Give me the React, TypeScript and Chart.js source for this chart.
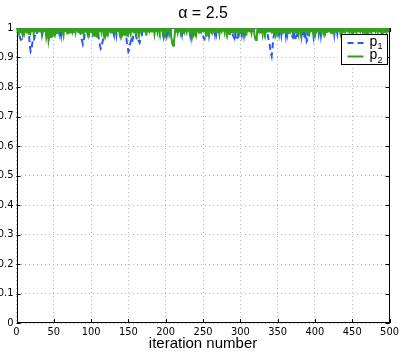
import React, { useEffect, useRef } from "react";
import { Chart, registerables } from "chart.js";

Chart.register(...registerables);

// ---- data ----
const titleText = "α = 2.5";
const xAxisTitle = "iteration number";
const xTicks = [0, 50, 100, 150, 200, 250, 300, 350, 400, 450, 500];
const xTickLabels = ["0", "50", "100", "150", "200", "250", "300", "350", "400", "450", "500"];
const yTicks = [0, 0.1, 0.2, 0.3, 0.4, 0.5, 0.6, 0.7, 0.8, 0.9, 1];
const yTickLabels = ["0", "0.1", "0.2", "0.3", "0.4", "0.5", "0.6", "0.7", "0.8", "0.9", "1"];
const iterationCount = 500;
const baselineValue = 1;

// p1 (blue dashed): iterations where it drops below 1
const p1Dips: [number, number][] = [
  [4, 0.975], [5, 0.965], [6, 0.96], [7, 0.962], [8, 0.975],
  [17, 0.97], [18, 0.935], [19, 0.92], [20, 0.925], [21, 0.945], [22, 0.96], [23, 0.955], [24, 0.965], [25, 0.98],
  [27, 0.978], [34, 0.98], [36, 0.982],
  [52, 0.98], [58, 0.982], [60, 0.978],
  [86, 0.975], [87, 0.965], [88, 0.955], [89, 0.945], [90, 0.955], [91, 0.97],
  [95, 0.98], [97, 0.982],
  [110, 0.97], [111, 0.955], [112, 0.94], [113, 0.93], [114, 0.935], [115, 0.95], [116, 0.96], [117, 0.97],
  [126, 0.982], [128, 0.978], [131, 0.98], [134, 0.978], [137, 0.982], [140, 0.98],
  [147, 0.97], [148, 0.95], [149, 0.935], [150, 0.92], [151, 0.925], [152, 0.94], [153, 0.955], [154, 0.96], [155, 0.95], [156, 0.965], [157, 0.98],
  [160, 0.975], [161, 0.965], [162, 0.955], [163, 0.96], [164, 0.955], [165, 0.95], [166, 0.96], [167, 0.965], [168, 0.975],
  [197, 0.978], [199, 0.975], [201, 0.98], [203, 0.982],
  [213, 0.985], [216, 0.982], [220, 0.985], [222, 0.98],
  [233, 0.978], [235, 0.975], [237, 0.98],
  [250, 0.975], [251, 0.965], [252, 0.962], [253, 0.97], [254, 0.98],
  [258, 0.978], [262, 0.975], [266, 0.98], [268, 0.982], [271, 0.978], [273, 0.985],
  [290, 0.975], [291, 0.97], [292, 0.965], [294, 0.96], [295, 0.958], [296, 0.965], [297, 0.97], [299, 0.975],
  [302, 0.98], [305, 0.978], [307, 0.982],
  [337, 0.97], [338, 0.96], [339, 0.95], [340, 0.93], [341, 0.915], [342, 0.905], [343, 0.93], [344, 0.96], [345, 0.975],
  [352, 0.98], [355, 0.978], [358, 0.98], [361, 0.976], [363, 0.98],
  [369, 0.975], [370, 0.97], [372, 0.965], [374, 0.962], [376, 0.97],
  [382, 0.975], [384, 0.97], [386, 0.965], [387, 0.96], [389, 0.955], [390, 0.96], [392, 0.97],
  [398, 0.975], [400, 0.97], [402, 0.978], [405, 0.98], [408, 0.976], [411, 0.98],
  [423, 0.98], [426, 0.978], [430, 0.982],
];

// p2 (green solid): iterations where it drops below 1
const p2Dips: [number, number][] = [
  [1, 0.988], [3, 0.974], [5, 0.986], [8, 0.982], [10, 0.99], [13, 0.985], [15, 0.991], [17, 0.98], [19, 0.987], [21, 0.99],
  [23, 0.98], [26, 0.986], [28, 0.992], [30, 0.985], [33, 0.988], [35, 0.984], [37, 0.99], [40, 0.968], [41, 0.98], [43, 0.959],
  [44, 0.975], [46, 0.966], [48, 0.985], [50, 0.99], [52, 0.984], [54, 0.98], [56, 0.988], [58, 0.985], [60, 0.991], [63, 0.975],
  [65, 0.987], [68, 0.982], [70, 0.99], [72, 0.985], [75, 0.988], [77, 0.984], [79, 0.985], [82, 0.99], [84, 0.986], [86, 0.991],
  [88, 0.984], [90, 0.98], [92, 0.988], [95, 0.985], [97, 0.99], [100, 0.986], [102, 0.984], [104, 0.974], [106, 0.986], [108, 0.97],
  [110, 0.985], [112, 0.99], [114, 0.986], [117, 0.988], [119, 0.98], [121, 0.99], [123, 0.985], [126, 0.988], [128, 0.991], [130, 0.985],
  [133, 0.987], [135, 0.99], [138, 0.984], [140, 0.988], [142, 0.985], [144, 0.974], [146, 0.987], [148, 0.99], [150, 0.985], [153, 0.98],
  [155, 0.988], [157, 0.991], [159, 0.985], [161, 0.982], [164, 0.988], [166, 0.99], [168, 0.985], [171, 0.988], [174, 0.974], [176, 0.986],
  [178, 0.99], [180, 0.985], [183, 0.988], [185, 0.98], [187, 0.99], [189, 0.986], [192, 0.988], [194, 0.991], [196, 0.985], [199, 0.988],
  [201, 0.99], [203, 0.986], [205, 0.984], [207, 0.975], [208, 0.96], [209, 0.945], [210, 0.94], [211, 0.955], [212, 0.975], [214, 0.988],
  [216, 0.985], [218, 0.99], [221, 0.986], [223, 0.98], [225, 0.988], [228, 0.985], [230, 0.991], [232, 0.986], [235, 0.988], [237, 0.984],
  [239, 0.99], [241, 0.982], [244, 0.988], [246, 0.985], [248, 0.99], [251, 0.986], [254, 0.974], [256, 0.988], [258, 0.99], [261, 0.985],
  [263, 0.988], [266, 0.984], [268, 0.99], [270, 0.986], [272, 0.98], [275, 0.988], [277, 0.991], [279, 0.985], [282, 0.988], [285, 0.98],
  [287, 0.99], [289, 0.986], [292, 0.988], [294, 0.984], [296, 0.99], [299, 0.982], [301, 0.988], [303, 0.985], [306, 0.99], [308, 0.974],
  [310, 0.986], [313, 0.988], [315, 0.984], [317, 0.99], [319, 0.975], [320, 0.965], [321, 0.959], [322, 0.97], [324, 0.986], [326, 0.99],
  [328, 0.985], [330, 0.98], [333, 0.988], [335, 0.991], [337, 0.985], [340, 0.988], [342, 0.99], [344, 0.985], [347, 0.982], [349, 0.99],
  [351, 0.986], [354, 0.988], [356, 0.984], [358, 0.99], [360, 0.986], [363, 0.988], [365, 0.98], [367, 0.99], [370, 0.985], [372, 0.988],
  [374, 0.991], [376, 0.985], [378, 0.982], [381, 0.988], [383, 0.99], [385, 0.986], [388, 0.984], [391, 0.978], [393, 0.988], [395, 0.99],
  [398, 0.985], [400, 0.988], [402, 0.991], [405, 0.986], [407, 0.988], [409, 0.985], [412, 0.99], [414, 0.986], [416, 0.984], [419, 0.988],
  [421, 0.99], [423, 0.982], [426, 0.988], [428, 0.985], [431, 0.99], [434, 0.985], [436, 0.988], [439, 0.986], [441, 0.99], [444, 0.985],
  [446, 0.988], [449, 0.984], [451, 0.99], [454, 0.986], [456, 0.988], [459, 0.985], [461, 0.99], [464, 0.986], [466, 0.984], [469, 0.988],
  [471, 0.99], [474, 0.985], [476, 0.988], [479, 0.986], [481, 0.99], [484, 0.985], [486, 0.988], [489, 0.984], [491, 0.99], [494, 0.986],
  [496, 0.988], [498, 0.988], [500, 0.99],
];

const seriesNames = ["p", "p"];
const seriesSubscripts = ["1", "2"];
const p1Color = "#2f55ff";
const p2Color = "#2ea319";

function buildSeries(dips: [number, number][]) {
  const m = new Map<number, number>(dips);
  const out: { x: number; y: number }[] = [];
  for (let i = 0; i <= iterationCount; i++) {
    out.push({ x: i, y: m.has(i) ? (m.get(i) as number) : baselineValue });
  }
  return out;
}

const FONT = "'Liberation Sans', Arial, Helvetica, sans-serif";
const TICK_FONT = "'Liberation Sans Narrow', 'DejaVu Sans Condensed', 'Liberation Sans', sans-serif";

const decorPlugin = {
  id: "matlabDecor",
  beforeDatasetsDraw(chart: any) {
    const { ctx, chartArea: a } = chart;
    ctx.save();
    ctx.strokeStyle = "#000";
    ctx.lineWidth = 1;
    ctx.strokeRect(Math.round(a.left) + 0.5, Math.round(a.top) + 0.5, Math.round(a.right - a.left) - 1, Math.round(a.bottom - a.top) - 1);
    // inward ticks
    const xs = chart.scales.x;
    const ys = chart.scales.y;
    const tl = 4;
    ctx.beginPath();
    xTicks.forEach((v) => {
      const px = Math.round(xs.getPixelForValue(v)) + 0.5;
      ctx.moveTo(px, a.bottom);
      ctx.lineTo(px, a.bottom - tl);
      ctx.moveTo(px, a.top);
      ctx.lineTo(px, a.top + tl);
    });
    yTicks.forEach((v) => {
      const py = Math.round(ys.getPixelForValue(v)) + 0.5;
      ctx.moveTo(a.left, py);
      ctx.lineTo(a.left + tl, py);
      ctx.moveTo(a.right, py);
      ctx.lineTo(a.right - tl, py);
    });
    ctx.stroke();
    ctx.restore();
  },
  afterDraw(chart: any) {
    const { ctx, chartArea: a } = chart;
    ctx.save();
    // legend box
    const bw = 46;
    const bh = 30;
    const bx = Math.round(a.right - 3 - bw) + 0.5;
    const by = Math.round(a.top + 6) + 0.5;
    ctx.fillStyle = "#fff";
    ctx.fillRect(bx, by, bw, bh);
    ctx.strokeStyle = "#000";
    ctx.lineWidth = 1;
    ctx.strokeRect(bx, by, bw, bh);
    const rows = [
      { color: p1Color, dash: [6, 4] },
      { color: p2Color, dash: [] as number[] },
    ];
    rows.forEach((r, i) => {
      const yy = by + 8.5 + i * 13.5;
      ctx.beginPath();
      ctx.setLineDash(r.dash);
      ctx.strokeStyle = r.color;
      ctx.lineWidth = 2;
      ctx.moveTo(bx + 6, yy);
      ctx.lineTo(bx + 22, yy);
      ctx.stroke();
      ctx.setLineDash([]);
      ctx.fillStyle = "#000";
      ctx.textBaseline = "alphabetic";
      ctx.font = `14px ${FONT}`;
      ctx.fillText(seriesNames[i], bx + 28, yy + 2.5);
      ctx.font = `9px ${FONT}`;
      ctx.fillText(seriesSubscripts[i], bx + 36, yy + 6);
    });
    ctx.restore();
  },
};

export default function App() {
  const ref = useRef<HTMLCanvasElement | null>(null);
  useEffect(() => {
    if (!ref.current) return;
    const chart = new Chart(ref.current, {
      type: "line",
      data: {
        datasets: [
          {
            label: "p1",
            data: buildSeries(p1Dips),
            borderColor: p1Color,
            borderWidth: 2,
            borderDash: [6, 4],
            pointRadius: 0,
            fill: false,
            tension: 0,
            order: 2,
          },
          {
            label: "p2",
            data: buildSeries(p2Dips),
            borderColor: p2Color,
            borderWidth: 2,
            pointRadius: 0,
            fill: false,
            tension: 0,
            order: 1,
          },
        ],
      },
      options: {
        animation: false,
        responsive: false,
        events: [],
        layout: { padding: { left: 0, right: 11.5, top: 0, bottom: 0 } },
        plugins: {
          legend: { display: false },
          tooltip: { enabled: false },
          title: {
            display: true,
            text: titleText,
            fullSize: false,
            color: "#000",
            font: { family: FONT, size: 16, weight: "normal", lineHeight: 1.2 },
            padding: { top: 4, bottom: 4.8 },
          },
        },
        scales: {
          x: {
            type: "linear",
            min: 0,
            max: 500,
            afterFit: (s: any) => {
              s.height = 31;
            },
            afterBuildTicks: (s: any) => {
              s.ticks = xTicks.map((v) => ({ value: v }));
            },
            ticks: {
              autoSkip: false,
              maxRotation: 0,
              padding: 3,
              color: "#000",
              font: { family: TICK_FONT, size: 11 },
              callback: (_v: any, i: number) => xTickLabels[i],
            },
            grid: {
              color: "#b4b4b4",
              lineWidth: 1,
              drawTicks: false,
            },
            border: { display: false, dash: [1, 3] },
            title: {
              display: true,
              text: xAxisTitle,
              color: "#000",
              font: { family: FONT, size: 15, lineHeight: 1.2 },
              padding: { top: 0, bottom: 1.5 },
            },
          },
          y: {
            type: "linear",
            min: 0,
            max: 1,
            afterFit: (s: any) => {
              s.width = 16.5;
            },
            afterBuildTicks: (s: any) => {
              s.ticks = yTicks.map((v) => ({ value: v }));
            },
            ticks: {
              autoSkip: false,
              padding: 3,
              color: "#000",
              font: { family: TICK_FONT, size: 11 },
              callback: (_v: any, i: number) => yTickLabels[i],
            },
            grid: {
              color: "#b4b4b4",
              lineWidth: 1,
              drawTicks: false,
            },
            border: { display: false, dash: [1, 3] },
          },
        },
      },
      plugins: [decorPlugin],
    } as any);
    return () => chart.destroy();
  }, []);
  return (
    <div style={{ position: "fixed", left: 0, top: 0, width: 402, height: 354, background: "#fff" }}>
      <canvas ref={ref} width={402} height={354} />
    </div>
  );
}
